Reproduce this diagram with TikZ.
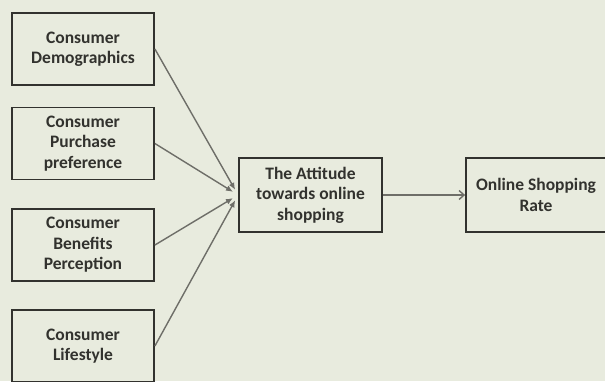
\documentclass[tikz,border=0pt]{standalone}
\usepackage{fontspec}
\setmainfont{Carlito}
\usetikzlibrary{arrows.meta,backgrounds}
\definecolor{paper}{RGB}{232, 235, 222}
\definecolor{ink}{RGB}{50, 50, 46}
\definecolor{linkgray}{RGB}{110, 110, 104}

\begin{document}
\begin{tikzpicture}[
        x=1pt, y=-1pt,
        background rectangle/.style={fill=paper},
        show background rectangle,
        inner frame sep=0pt,
        factor/.style={
            draw=ink,
            line width=1.8pt,
            minimum width=142pt,
            minimum height=72pt,
            align=center,
            text=ink,
            font=\fontsize{17.5}{20.5}\selectfont\bfseries
        },
        link/.style={
            draw=linkgray,
            line width=1.4pt,
            -{Latex[length=7pt,width=6pt]},
            shorten >=6pt
        },
        result/.style={
            draw=linkgray,
            line width=1.4pt,
            -{Straight Barb[length=5pt,width=9pt]}
        }
    ]

    \useasboundingbox (0,0) rectangle (605,381);

    \node[factor] (demo) at (83,49) {Consumer\\Demographics};
    \node[factor] (pref) at (83,143.5) {Consumer\\Purchase\\preference};
    \node[factor] (bene) at (83,245) {Consumer\\Benefits\\Perception};
    \node[factor] (life) at (83,346) {Consumer\\Lifestyle};

    \node[factor, minimum width=143pt, minimum height=74pt] (att) at (310.5,195)
        {The Attitude\\towards online\\shopping};
    \node[factor, minimum width=140pt, minimum height=74pt] (rate) at (536,195)
        {Online Shopping\\Rate};

    \foreach \src in {demo,pref,bene,life}
        \draw[link] (\src.east) -- (att.west);
    \draw[result] (att.east) -- (rate.west);

\end{tikzpicture}
\end{document}
